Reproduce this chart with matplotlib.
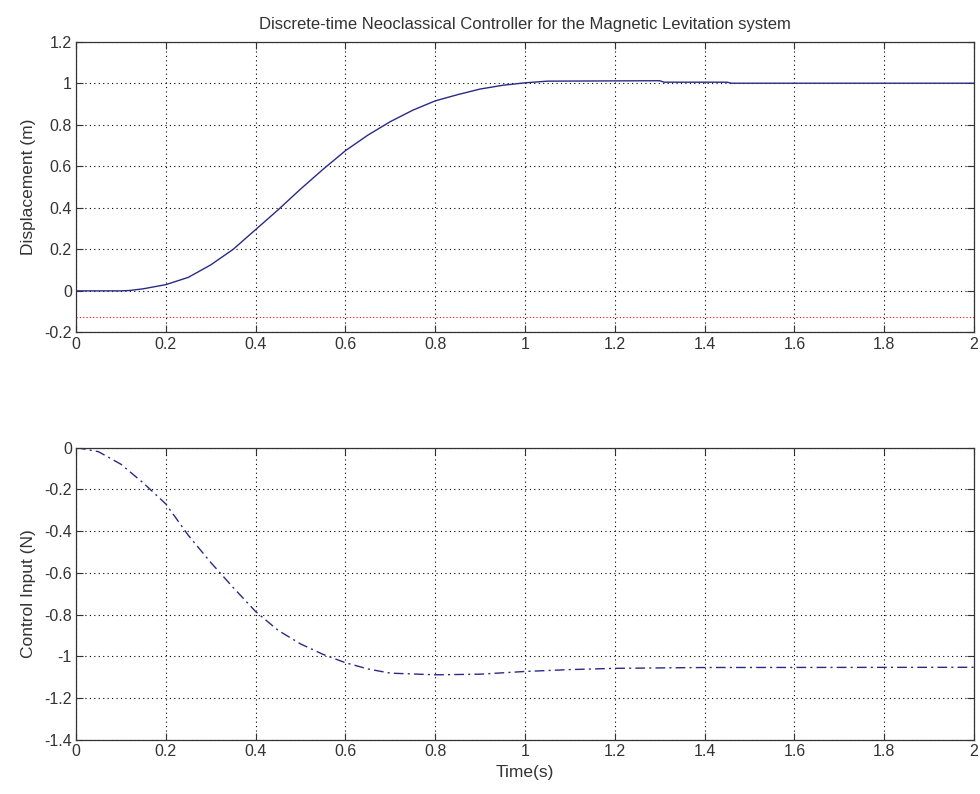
import matplotlib
matplotlib.use("Agg")
import matplotlib.pyplot as plt
import numpy as np

plt.rcParams['font.family'] = ['Liberation Sans', 'DejaVu Sans']

# Displacement response (top)
t_disp = [0.0, 0.05, 0.10, 0.12, 0.15, 0.20, 0.25, 0.30, 0.35, 0.40, 0.45, 0.50,
          0.55, 0.60, 0.65, 0.70, 0.75, 0.80, 0.85, 0.90, 0.95, 1.00, 1.05,
          1.30, 1.31, 1.45, 1.46, 2.00]
y_disp = [0.0, 0.0, 0.0, 0.002, 0.01, 0.03, 0.065, 0.125, 0.20, 0.295, 0.39, 0.49,
          0.585, 0.675, 0.75, 0.815, 0.87, 0.915, 0.945, 0.972, 0.99, 1.002, 1.01,
          1.012, 1.005, 1.005, 1.0, 1.0]

# Reference (red dotted) level
ref_level = -0.125

# Control input (bottom)
t_ctrl = [0.0, 0.05, 0.10, 0.15, 0.20, 0.25, 0.30, 0.35, 0.40, 0.45, 0.50, 0.55,
          0.60, 0.65, 0.70, 0.80, 0.90, 1.00, 1.10, 1.20, 1.40, 2.00]
u_ctrl = [0.0, -0.02, -0.08, -0.17, -0.27, -0.42, -0.55, -0.67, -0.785, -0.875, -0.94, -0.99,
          -1.03, -1.06, -1.08, -1.088, -1.085, -1.072, -1.063, -1.057, -1.053, -1.052]

x_ticks = [0, 0.2, 0.4, 0.6, 0.8, 1, 1.2, 1.4, 1.6, 1.8, 2]
x_ticklabels = ['0', '0.2', '0.4', '0.6', '0.8', '1', '1.2', '1.4', '1.6', '1.8', '2']
y1_ticks = [-0.2, 0, 0.2, 0.4, 0.6, 0.8, 1, 1.2]
y1_ticklabels = ['-0.2', '0', '0.2', '0.4', '0.6', '0.8', '1', '1.2']
y2_ticks = [-1.4, -1.2, -1, -0.8, -0.6, -0.4, -0.2, 0]
y2_ticklabels = ['-1.4', '-1.2', '-1', '-0.8', '-0.6', '-0.4', '-0.2', '0']

line_color = '#2a2a85'
text_color = '#333333'
fs = 11.5

fig = plt.figure(figsize=(9.8, 7.94), dpi=100)
W, H = 980, 794
ax1 = fig.add_axes([76 / W, 1 - 332.4 / H, 898 / W, (332.4 - 41.7) / H])
ax2 = fig.add_axes([76 / W, 1 - 740 / H, 898 / W, (740 - 447.5) / H])

for ax in (ax1, ax2):
    ax.set_xlim(0, 2)
    ax.set_xticks(x_ticks)
    ax.set_xticklabels(x_ticklabels)
    ax.grid(True, linestyle=(0, (1, 3)), color='black', linewidth=0.8)
    ax.tick_params(direction='in', top=True, right=True, length=5, labelsize=fs,
                   color=text_color, labelcolor=text_color, pad=3)
    for s in ax.spines.values():
        s.set_color(text_color)
        s.set_linewidth(0.9)

ax1.plot(t_disp, y_disp, color=line_color, linewidth=1.0)
ax1.axhline(ref_level, color='red', linestyle=(0, (1, 2)), linewidth=0.8)
ax1.set_ylim(-0.2, 1.2)
ax1.set_yticks(y1_ticks)
ax1.set_yticklabels(y1_ticklabels)
ax1.set_ylabel('Displacement (m)', fontsize=12.5, color=text_color, labelpad=6)
ax1.set_title('Discrete-time Neoclassical Controller for the Magnetic Levitation system',
              fontsize=12, pad=9, color=text_color)

ax2.plot(t_ctrl, u_ctrl, color=line_color, linewidth=1.0, linestyle=(0, (7, 3, 1.5, 3)))
ax2.set_ylim(-1.4, 0)
ax2.set_yticks(y2_ticks)
ax2.set_yticklabels(y2_ticklabels)
ax2.set_ylabel('Control Input (N)', fontsize=12.5, color=text_color, labelpad=6)
ax2.set_xlabel('Time(s)', fontsize=12.5, labelpad=4, color=text_color)

fig.savefig('out.png', dpi=100)
